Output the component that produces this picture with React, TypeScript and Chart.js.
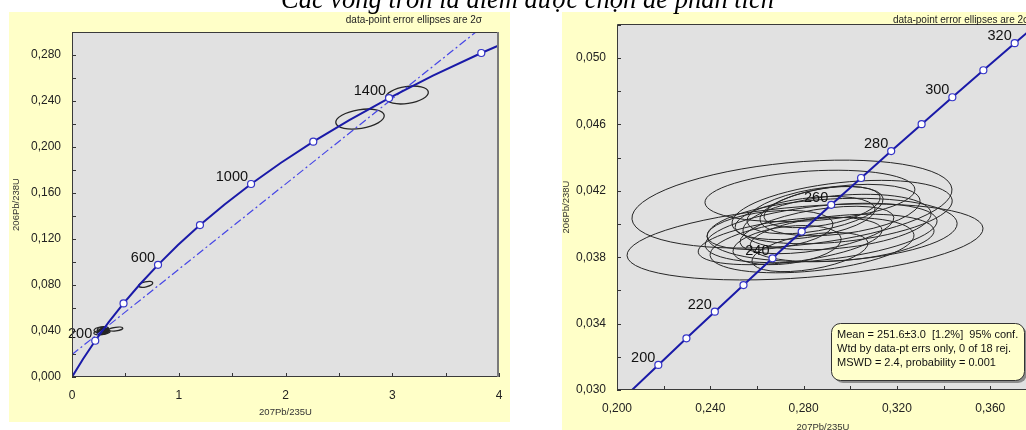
import React, { useEffect, useRef } from "react";
import { Chart, registerables } from "chart.js";

Chart.register(...registerables);

const FONT = "'Liberation Sans', Arial, sans-serif";
const YELLOW = "#FFFFC8";
const GRAY = "#E1E1E1";
const LINE = "#1a1aa8";
const MARK = "#3434c8";
const DASH = "#4646e6";

// ---------- left panel: full concordia (ages in Ma) ----------
const wideAges = [0, 100, 200, 300, 400, 500, 600, 700, 800, 900, 1000, 1100, 1200, 1300, 1400, 1500, 1600, 1700];
const wideX = [0, 0.1035, 0.2177, 0.3437, 0.4828, 0.6363, 0.8057, 0.9925, 1.1987, 1.4263, 1.6774, 1.9545, 2.2603, 2.5977, 2.97, 3.381, 3.8343, 4.3347];
const wideY = [0, 0.01563, 0.03151, 0.04764, 0.06402, 0.08065, 0.09754, 0.1147, 0.13214, 0.14983, 0.16782, 0.18606, 0.20462, 0.22344, 0.24257, 0.26199, 0.28173, 0.30175];
const wideMarkerAges = [200, 400, 600, 800, 1000, 1200, 1400, 1600];
const wideLabelAges = [200, 600, 1000, 1400];
const discordiaX = [0, 4];
const discordiaY = [0.0195, 0.316];

const leftXTickValues = [0, 0.5, 1, 1.5, 2, 2.5, 3, 3.5, 4];
const leftXTickLabels = ["0", "", "1", "", "2", "", "3", "", "4"];
const leftYTickValues = [0, 0.02, 0.04, 0.06, 0.08, 0.1, 0.12, 0.14, 0.16, 0.18, 0.2, 0.22, 0.24, 0.26, 0.28, 0.3];
const leftYTickLabels = ["0,000", "", "0,040", "", "0,080", "", "0,120", "", "0,160", "", "0,200", "", "0,240", "", "0,280", ""];

// ---------- right panel: zoomed concordia ----------
const zoomAges = [190, 200, 210, 220, 230, 240, 250, 260, 270, 280, 290, 300, 310, 320, 330];
const zoomX = [0.20577, 0.21771, 0.22976, 0.24193, 0.25422, 0.26664, 0.27917, 0.29183, 0.30462, 0.31753, 0.33057, 0.34374, 0.35704, 0.37047, 0.38403];
const zoomY = [0.029912, 0.031511, 0.033113, 0.034717, 0.036323, 0.037932, 0.039543, 0.041157, 0.042773, 0.044392, 0.046014, 0.047637, 0.049264, 0.050893, 0.052524];
const zoomMarkerAges = [200, 210, 220, 230, 240, 250, 260, 270, 280, 290, 300, 310, 320];
const zoomLabelAges = [200, 220, 240, 260, 280, 300, 320];

const rightXTickValues = [0.2, 0.22, 0.24, 0.26, 0.28, 0.3, 0.32, 0.34, 0.36];
const rightXTickLabels = ["0,200", "", "0,240", "", "0,280", "", "0,320", "", "0,360"];
const rightYTickValues = [0.03, 0.032, 0.034, 0.036, 0.038, 0.04, 0.042, 0.044, 0.046, 0.048, 0.05, 0.052];
const rightYTickLabels = ["0,030", "", "0,034", "", "0,038", "", "0,042", "", "0,046", "", "0,050", ""];

// ---------- data-point error ellipses (2 sigma) ----------
const ellX = [0.275, 0.2806, 0.2827, 0.2742, 0.2875, 0.2922, 0.2965, 0.2849, 0.2879, 0.2827, 0.2656, 0.2857, 0.2956, 0.2729, 0.2943, 0.2836, 0.2965, 0.2806];
const ellY = [0.0412, 0.03892, 0.04169, 0.03898, 0.03946, 0.03964, 0.04072, 0.04084, 0.04102, 0.03831, 0.03964, 0.03964, 0.04084, 0.03873, 0.04012, 0.03873, 0.03916, 0.04036];
const ellSX = [0.0686, 0.0763, 0.045, 0.0394, 0.0497, 0.0536, 0.0472, 0.0292, 0.0249, 0.0249, 0.027, 0.033, 0.0343, 0.0232, 0.0403, 0.0437, 0.0394, 0.03];
const ellSY = [0.00265, 0.00229, 0.00155, 0.00143, 0.00179, 0.00191, 0.00191, 0.00143, 0.00124, 0.00118, 0.00118, 0.00143, 0.00155, 0.00118, 0.00167, 0.00167, 0.00143, 0.0013];
const ellRho = [0.32, 0.35, 0.25, 0.45, 0.4, 0.2, 0.35, 0.45, 0.45, 0.45, 0.3, 0.5, 0.35, 0.3, 0.3, 0.35, 0.3, 0.4];

// other analyses, visible only on the full concordia
const extraX = [0.41, 0.69, 2.698, 3.138];
const extraY = [0.0417, 0.0806, 0.2243, 0.2452];
const extraSX = [0.066, 0.066, 0.227, 0.2];
const extraSY = [0.0017, 0.0026, 0.0087, 0.0078];
const extraRho = [0.4, 0.5, 0.33, 0.3];

const HEADER = "data-point error ellipses are 2σ";
const MEAN_LINES = [
  "Mean = 251.6±3.0  [1.2%]  95% conf.",
  "Wtd by data-pt errs only, 0 of 18 rej.",
  "MSWD = 2.4, probability = 0.001",
];
const TITLE = "Các vòng tròn là điểm được chọn để phân tích";

type EllSet = { x: number[]; y: number[]; sx: number[]; sy: number[]; rho: number[] };
type PanelOpts = {
  ellipses: EllSet[];
  ellipseWidth: number;
  labels: { x: number; y: number; text: string }[];
  header: { x: number; y: number; align: CanvasTextAlign };
  rightBorder: string;
  meanBox?: { x: number; y: number; w: number; h: number };
};

function roundRect(ctx: CanvasRenderingContext2D, x: number, y: number, w: number, h: number, r: number) {
  ctx.beginPath();
  ctx.moveTo(x + r, y);
  ctx.lineTo(x + w - r, y);
  ctx.arcTo(x + w, y, x + w, y + r, r);
  ctx.lineTo(x + w, y + h - r);
  ctx.arcTo(x + w, y + h, x + w - r, y + h, r);
  ctx.lineTo(x + r, y + h);
  ctx.arcTo(x, y + h, x, y + h - r, r);
  ctx.lineTo(x, y + r);
  ctx.arcTo(x, y, x + r, y, r);
  ctx.closePath();
}

function panelPlugin(o: PanelOpts) {
  return {
    id: "panel",
    beforeDraw(chart: any) {
      const { ctx, chartArea: a } = chart;
      ctx.save();
      ctx.fillStyle = YELLOW;
      ctx.fillRect(0, 0, chart.width, chart.height);
      ctx.fillStyle = GRAY;
      ctx.fillRect(a.left, a.top, a.right - a.left, a.bottom - a.top);
      ctx.restore();
    },
    beforeDatasetsDraw(chart: any) {
      const { ctx, chartArea: a } = chart;
      const xs = chart.scales.x;
      const ys = chart.scales.y;
      ctx.save();
      ctx.beginPath();
      ctx.rect(a.left, a.top, a.right - a.left, a.bottom - a.top);
      ctx.clip();
      ctx.strokeStyle = "#262626";
      ctx.lineWidth = o.ellipseWidth;
      for (const s of o.ellipses) {
        for (let i = 0; i < s.x.length; i++) {
          const px = xs.getPixelForValue(s.x[i]);
          const py = ys.getPixelForValue(s.y[i]);
          const ax = Math.abs(xs.getPixelForValue(s.x[i] + s.sx[i]) - px);
          const ay = Math.abs(ys.getPixelForValue(s.y[i] + s.sy[i]) - py);
          const c = -s.rho[i] * ax * ay;
          const a2 = ax * ax;
          const b2 = ay * ay;
          const theta = 0.5 * Math.atan2(2 * c, a2 - b2);
          const mid = (a2 + b2) / 2;
          const d = Math.sqrt(((a2 - b2) / 2) ** 2 + c * c);
          const r1 = Math.sqrt(mid + d);
          const r2 = Math.sqrt(Math.max(mid - d, 0.01));
          ctx.beginPath();
          ctx.ellipse(px, py, r1, r2, theta, 0, Math.PI * 2);
          ctx.stroke();
        }
      }
      ctx.restore();
    },
    afterDatasetsDraw(chart: any) {
      const { ctx } = chart;
      const xs = chart.scales.x;
      const ys = chart.scales.y;
      ctx.save();
      ctx.fillStyle = "#111";
      ctx.font = `14.5px ${FONT}`;
      ctx.textAlign = "right";
      ctx.textBaseline = "middle";
      for (const l of o.labels) {
        const px = xs.getPixelForValue(l.x);
        const py = ys.getPixelForValue(l.y);
        ctx.fillText(l.text, px - 3, py - 7);
      }
      ctx.restore();
    },
    afterDraw(chart: any) {
      const { ctx, chartArea: a } = chart;
      const xs = chart.scales.x;
      const ys = chart.scales.y;
      ctx.save();
      // inside tick marks
      ctx.strokeStyle = "#333";
      ctx.lineWidth = 1;
      ctx.beginPath();
      for (const t of xs.ticks) {
        const p = Math.round(xs.getPixelForValue(t.value)) + 0.5;
        ctx.moveTo(p, a.bottom);
        ctx.lineTo(p, a.bottom - 4);
      }
      for (const t of ys.ticks) {
        const p = Math.round(ys.getPixelForValue(t.value)) + 0.5;
        ctx.moveTo(a.left, p);
        ctx.lineTo(a.left + 4, p);
      }
      ctx.stroke();
      // frame
      ctx.strokeStyle = "#3a3a3a";
      ctx.beginPath();
      ctx.moveTo(a.right, a.top + 0.5);
      ctx.lineTo(a.left + 0.5, a.top + 0.5);
      ctx.lineTo(a.left + 0.5, a.bottom - 0.5);
      ctx.lineTo(a.right, a.bottom - 0.5);
      ctx.stroke();
      ctx.strokeStyle = o.rightBorder;
      ctx.lineWidth = 2;
      ctx.beginPath();
      ctx.moveTo(a.right - 1, a.top);
      ctx.lineTo(a.right - 1, a.bottom);
      ctx.stroke();
      // header note
      ctx.fillStyle = "#222";
      ctx.font = `10px ${FONT}`;
      ctx.textAlign = o.header.align;
      ctx.textBaseline = "middle";
      ctx.fillText(HEADER, o.header.x, o.header.y);
      // mean box
      if (o.meanBox) {
        const b = o.meanBox;
        ctx.fillStyle = "#8c8c8c";
        roundRect(ctx, b.x + 3, b.y + 3, b.w, b.h, 9);
        ctx.fill();
        ctx.fillStyle = "#FFFFCC";
        roundRect(ctx, b.x + 0.5, b.y + 0.5, b.w, b.h, 9);
        ctx.fill();
        ctx.strokeStyle = "#333";
        ctx.lineWidth = 1;
        ctx.stroke();
        ctx.fillStyle = "#111";
        ctx.font = `11px ${FONT}`;
        ctx.textAlign = "left";
        ctx.textBaseline = "middle";
        MEAN_LINES.forEach((s, i) => ctx.fillText(s, b.x + 6, b.y + 12 + i * 14));
      }
      ctx.restore();
    },
  };
}

function axisX(min: number, max: number, values: number[], labels: string[], height: number, titlePad: number) {
  return {
    type: "linear",
    min,
    max,
    grid: { display: false, drawTicks: false },
    border: { display: false },
    afterBuildTicks: (s: any) => {
      s.ticks = values.map((v) => ({ value: v }));
    },
    afterFit: (s: any) => {
      s.height = height;
      s.paddingLeft = 0;
      s.paddingRight = 0;
      s.paddingTop = 0;
      s.paddingBottom = 0;
    },
    ticks: {
      autoSkip: false,
      maxRotation: 0,
      minRotation: 0,
      padding: 11,
      color: "#222",
      font: { family: FONT, size: 12 },
      callback: (_v: any, i: number) => labels[i],
    },
    title: {
      display: true,
      text: "207Pb/235U",
      color: "#333",
      font: { family: FONT, size: 9.5, lineHeight: 1 },
      padding: { top: 0, bottom: titlePad },
    },
  };
}

function axisY(min: number, max: number, values: number[], labels: string[], width: number, titlePad: number) {
  return {
    type: "linear",
    min,
    max,
    grid: { display: false, drawTicks: false },
    border: { display: false },
    afterBuildTicks: (s: any) => {
      s.ticks = values.map((v) => ({ value: v }));
    },
    afterFit: (s: any) => {
      s.width = width;
      s.paddingLeft = 0;
      s.paddingRight = 0;
      s.paddingTop = 0;
      s.paddingBottom = 0;
    },
    ticks: {
      autoSkip: false,
      padding: 11,
      color: "#222",
      font: { family: FONT, size: 12 },
      callback: (_v: any, i: number) => labels[i],
    },
    title: {
      display: true,
      text: "206Pb/238U",
      color: "#333",
      font: { family: FONT, size: 9.5, lineHeight: 1 },
      padding: { top: titlePad, bottom: 0 },
    },
  };
}

function pick(ages: number[], xs: number[], ys: number[], wanted: number[]) {
  return wanted.map((a) => {
    const i = ages.indexOf(a);
    return { x: xs[i], y: ys[i], text: String(a) };
  });
}

function datasets(curveX: number[], curveY: number[], markers: { x: number; y: number }[], withDiscordia: boolean) {
  const ds: any[] = [
    {
      data: markers.map((m) => ({ x: m.x, y: m.y })),
      showLine: false,
      pointRadius: 3.5,
      pointBackgroundColor: "#ffffff",
      pointBorderColor: MARK,
      pointBorderWidth: 1.2,
      order: 0,
      clip: 0,
    },
    {
      data: curveX.map((x, i) => ({ x, y: curveY[i] })),
      showLine: true,
      borderColor: LINE,
      borderWidth: 2,
      pointRadius: 0,
      order: 1,
      clip: 0,
    },
  ];
  if (withDiscordia) {
    ds.push({
      data: discordiaX.map((x, i) => ({ x, y: discordiaY[i] })),
      showLine: true,
      borderColor: DASH,
      borderWidth: 1.2,
      borderDash: [8, 3, 2, 3],
      pointRadius: 0,
      order: 2,
      clip: 0,
    });
  }
  return ds;
}

const mainEll: EllSet = { x: ellX, y: ellY, sx: ellSX, sy: ellSY, rho: ellRho };
const extraEll: EllSet = { x: extraX, y: extraY, sx: extraSX, sy: extraSY, rho: extraRho };

function leftConfig(): any {
  return {
    type: "scatter",
    data: { datasets: datasets(wideX, wideY, pick(wideAges, wideX, wideY, wideMarkerAges), true) },
    options: {
      responsive: false,
      animation: false,
      events: [],
      layout: { padding: { left: 0, top: 20, right: 11, bottom: 0 } },
      plugins: { legend: { display: false }, tooltip: { enabled: false } },
      scales: {
        x: axisX(0, 4, leftXTickValues, leftXTickLabels, 45, 5),
        y: axisY(0, 0.3, leftYTickValues, leftYTickLabels, 63, 3),
      },
    },
    plugins: [
      panelPlugin({
        ellipses: [mainEll, extraEll],
        ellipseWidth: 1.3,
        labels: pick(wideAges, wideX, wideY, wideLabelAges),
        header: { x: 473, y: 8.5, align: "right" },
        rightBorder: "#7a7a7a",
      }),
    ],
  };
}

function rightConfig(): any {
  return {
    type: "scatter",
    data: { datasets: datasets(zoomX, zoomY, pick(zoomAges, zoomX, zoomY, zoomMarkerAges), false) },
    options: {
      responsive: false,
      animation: false,
      events: [],
      layout: { padding: { left: 0, top: 12, right: 33, bottom: 0 } },
      plugins: { legend: { display: false }, tooltip: { enabled: false } },
      scales: {
        x: axisX(0.2, 0.3766, rightXTickValues, rightXTickLabels, 47, 5),
        y: axisY(0.03, 0.05205, rightYTickValues, rightYTickLabels, 55, 0),
      },
    },
    plugins: [
      panelPlugin({
        ellipses: [mainEll],
        ellipseWidth: 1,
        labels: pick(zoomAges, zoomX, zoomY, zoomLabelAges),
        header: { x: 331, y: 8.5, align: "left" },
        rightBorder: "#7a7a7a",
        meanBox: { x: 269, y: 311, w: 193, h: 57 },
      }),
    ],
  };
}

export default function App() {
  const leftRef = useRef<HTMLCanvasElement>(null);
  const rightRef = useRef<HTMLCanvasElement>(null);
  useEffect(() => {
    const c1 = new Chart(leftRef.current as HTMLCanvasElement, leftConfig());
    const c2 = new Chart(rightRef.current as HTMLCanvasElement, rightConfig());
    return () => {
      c1.destroy();
      c2.destroy();
    };
  }, []);
  return (
    <div
      style={{
        position: "fixed",
        left: 0,
        top: 0,
        width: 1026,
        height: 430,
        overflow: "hidden",
        background: "#fff",
      }}
    >
      <canvas
        ref={leftRef}
        width={501}
        height={410}
        style={{ position: "absolute", left: 9, top: 12, width: 501, height: 410 }}
      />
      <canvas
        ref={rightRef}
        width={500}
        height={425}
        style={{ position: "absolute", left: 562, top: 12, width: 500, height: 425 }}
      />
      <div
        style={{
          position: "absolute",
          left: 281,
          top: -14,
          font: "italic 26.5px 'Liberation Serif', 'Times New Roman', serif",
          lineHeight: "26px",
          whiteSpace: "nowrap",
          color: "#000",
        }}
      >
        {TITLE}
      </div>
    </div>
  );
}
